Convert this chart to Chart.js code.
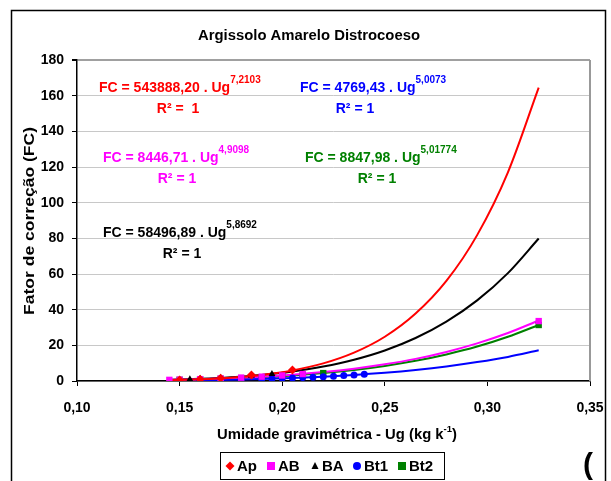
<!DOCTYPE html>
<html>
<head>
<meta charset="utf-8">
<script src="https://cdn.jsdelivr.net/npm/chart.js@4"></script>
<style>
  html, body { margin: 0; padding: 0; background: #fff; }
  #wrap { width: 611px; height: 481px; }
</style>
</head>
<body>
<div id="wrap"><canvas id="myChart" width="611" height="481"></canvas></div>
<script>
const apX = [0.150, 0.160, 0.170, 0.185, 0.205];
const apY = [0.6, 1.0, 1.6, 3.3, 6.2];
const abX = [0.145, 0.150, 0.160, 0.170, 0.180, 0.190, 0.200, 0.210, 0.325];
const abY = [0.64, 0.75, 1.04, 1.41, 1.9, 2.43, 3.1, 3.9, 33.6];
const baX = [0.155, 0.160, 0.170, 0.185, 0.195];
const baY = [0.95, 1.25, 1.8, 3.0, 3.9];
const bt1X = [0.160, 0.170, 0.180, 0.190, 0.195, 0.200, 0.205, 0.210, 0.215, 0.220, 0.225, 0.230, 0.235, 0.240];
const bt1Y = [0.49, 0.67, 0.89, 1.17, 1.33, 1.51, 1.71, 1.93, 2.17, 2.43, 2.72, 3.03, 3.38, 3.75];
const bt2X = [0.150, 0.160, 0.170, 0.180, 0.190, 0.200, 0.210, 0.220, 0.325];
const bt2Y = [0.65, 0.90, 1.22, 1.62, 2.13, 2.75, 3.5, 4.44, 31.4];

// trend curves, values
const trendX = [0.145, 0.160, 0.175, 0.190, 0.205, 0.220, 0.235, 0.250, 0.265, 0.280, 0.295, 0.310, 0.325];
const apTrend = [0.49, 0.99, 1.89, 3.43, 5.93, 9.87, 15.9, 24.8, 37.8, 56.1, 81.8, 117, 164.5];
const baTrend = [0.70, 1.25, 2.11, 3.42, 5.34, 8.08, 11.9, 17.1, 24.1, 33.3, 45.2, 60.5, 79.9];
const abTrend = [0.64, 1.04, 1.62, 2.43, 3.53, 4.99, 6.90, 9.34, 12.4, 16.3, 21.1, 26.9, 33.9];
const bt2Trend = [0.55, 0.90, 1.41, 2.13, 3.11, 4.44, 6.18, 8.43, 11.3, 14.9, 19.3, 24.8, 31.4];
const bt1Trend = [0.30, 0.49, 0.77, 1.17, 1.71, 2.43, 3.38, 4.61, 6.17, 8.13, 10.6, 13.5, 17.2];

const xTicks = [0.10, 0.15, 0.20, 0.25, 0.30, 0.35];
const xTickLabels = ["0,10", "0,15", "0,20", "0,25", "0,30", "0,35"];
const yTicks = [0, 20, 40, 60, 80, 100, 120, 140, 160, 180];

const seriesNames = ["Ap", "AB", "BA", "Bt1", "Bt2"];
const equations = [
  { fc: "FC = 543888,20 . Ug", exp: "7,2103", r2: "R² =  1", color: "#ff0000", x: 99, y: 92, rx: 178 },
  { fc: "FC = 4769,43 . Ug", exp: "5,0073", r2: "R² = 1", color: "#0000ff", x: 300, y: 92, rx: 355 },
  { fc: "FC = 8446,71 . Ug", exp: "4,9098", r2: "R² = 1", color: "#ff00ff", x: 103, y: 162, rx: 177 },
  { fc: "FC = 8847,98 . Ug", exp: "5,01774", r2: "R² = 1", color: "#008000", x: 305, y: 162, rx: 377 },
  { fc: "FC = 58496,89 . Ug", exp: "5,8692", r2: "R² = 1", color: "#000000", x: 103, y: 237, rx: 182 },
];

const FONT = "'Liberation Sans', Arial, sans-serif";

function pts(xs, ys) {
  return xs.map((x, i) => ({ x: x, y: ys[i] }));
}

function points(label, xs, ys, color, style, r) {
  return {
    type: "scatter",
    label: label,
    data: pts(xs, ys),
    backgroundColor: color,
    borderColor: color,
    borderWidth: 0,
    pointStyle: style,
    pointRadius: r,
    order: 0,
  };
}

function trend(ys, color) {
  return {
    type: "line",
    label: "trend",
    data: pts(trendX, ys),
    borderColor: color,
    borderWidth: 2,
    pointRadius: 0,
    cubicInterpolationMode: "monotone",
    fill: false,
    order: 1,
  };
}

// centered text squeezed/stretched to a width seen in the picture
function fitText(ctx, text, cx, cy, width) {
  const w = ctx.measureText(text).width;
  ctx.save();
  ctx.translate(cx, cy);
  ctx.scale(width / w, 1);
  ctx.textAlign = "center";
  ctx.fillText(text, 0, 0);
  ctx.restore();
}

const decor = {
  id: "decor",
  afterDraw(chart) {
    const ctx = chart.ctx;
    const a = chart.chartArea;
    ctx.save();

    // plot area right border
    ctx.strokeStyle = "#999";
    ctx.lineWidth = 2;
    ctx.beginPath();
    ctx.moveTo(a.right, a.top);
    ctx.lineTo(a.right, a.bottom);
    ctx.stroke();

    // outer frame
    ctx.strokeStyle = "#000";
    ctx.lineWidth = 1.5;
    ctx.strokeRect(11.5, 10.5, 594, 490);

    // title
    ctx.fillStyle = "#000";
    ctx.textBaseline = "middle";
    ctx.font = "bold 14px " + FONT;
    fitText(ctx, "Argissolo Amarelo Distrocoeso", 309, 36, 222);

    // y title
    ctx.save();
    ctx.translate(30, 221);
    ctx.rotate(-Math.PI / 2);
    ctx.font = "bold 15px " + FONT;
    fitText(ctx, "Fator de correção (FC)", 0, 0, 188);
    ctx.restore();

    // x title with superscript
    ctx.textBaseline = "alphabetic";
    ctx.textAlign = "left";
    ctx.save();
    ctx.font = "bold 14px " + FONT;
    const p1 = "Umidade gravimétrica - Ug (kg k";
    const w1 = ctx.measureText(p1).width;
    ctx.font = "bold 9px " + FONT;
    const ws = ctx.measureText("-1").width;
    ctx.font = "bold 14px " + FONT;
    const w2 = ctx.measureText(")").width;
    const tw = w1 + ws + w2;
    const k = 240 / tw;
    ctx.translate(217, 0);
    ctx.scale(k, 1);
    ctx.fillText(p1, 0, 439);
    ctx.font = "bold 9px " + FONT;
    ctx.fillText("-1", w1, 432);
    ctx.font = "bold 14px " + FONT;
    ctx.fillText(")", w1 + ws, 439);
    ctx.restore();

    // equations
    equations.forEach((e) => {
      ctx.fillStyle = e.color;
      ctx.textAlign = "left";
      ctx.font = "bold 14px " + FONT;
      ctx.fillText(e.fc, e.x, e.y);
      const w = ctx.measureText(e.fc).width;
      ctx.font = "bold 10px " + FONT;
      ctx.fillText(e.exp, e.x + w, e.y - 9);
      ctx.font = "bold 14px " + FONT;
      ctx.textAlign = "center";
      ctx.fillText(e.r2, e.rx, e.y + 21);
    });

    // legend box
    ctx.strokeStyle = "#000";
    ctx.lineWidth = 1;
    ctx.strokeRect(220.5, 452.5, 224, 27);
    const lx = [230, 271, 315, 357, 402];
    const ly = 466;
    const sets = chart.data.datasets.filter((d) => d.type === "scatter");
    ctx.font = "bold 15px " + FONT;
    ctx.textAlign = "left";
    ctx.textBaseline = "middle";
    sets.forEach((d, i) => {
      ctx.fillStyle = d.backgroundColor;
      ctx.beginPath();
      if (d.pointStyle === "rectRot") {
        ctx.moveTo(lx[i], ly - 4.5); ctx.lineTo(lx[i] + 4.5, ly); ctx.lineTo(lx[i], ly + 4.5); ctx.lineTo(lx[i] - 4.5, ly);
      } else if (d.pointStyle === "rect") {
        ctx.rect(lx[i] - 4, ly - 4, 8, 8);
      } else if (d.pointStyle === "triangle") {
        ctx.moveTo(lx[i], ly - 4); ctx.lineTo(lx[i] + 3.5, ly + 3); ctx.lineTo(lx[i] - 3.5, ly + 3);
      } else {
        ctx.arc(lx[i], ly, 4, 0, Math.PI * 2);
      }
      ctx.fill();
      ctx.fillStyle = "#000";
      ctx.fillText(d.label, lx[i] + 7, ly + 1);
    });

    // stray parenthesis at the right
    ctx.font = "bold 30px " + FONT;
    ctx.textAlign = "center";
    ctx.fillText("(", 588, 466);

    ctx.restore();
  },
};

const ctx = document.getElementById("myChart");
const myChart = new Chart(ctx, {
  data: {
    datasets: [
      points(seriesNames[0], apX, apY, "#ff0000", "rectRot", 4.5),
      points(seriesNames[1], abX, abY, "#ff00ff", "rect", 4.5),
      points(seriesNames[2], baX, baY, "#000000", "triangle", 4),
      points(seriesNames[3], bt1X, bt1Y, "#0000ff", "circle", 3.5),
      points(seriesNames[4], bt2X, bt2Y, "#008000", "rect", 4.5),
      trend(apTrend, "#ff0000"),
      trend(abTrend, "#ff00ff"),
      trend(baTrend, "#000000"),
      trend(bt1Trend, "#0000ff"),
      trend(bt2Trend, "#008000"),
    ],
  },
  options: {
    responsive: false,
    animation: false,
    events: [],
    layout: { padding: { left: 11, top: 60, right: 21, bottom: 0 } },
    plugins: {
      legend: { display: false },
      tooltip: { enabled: false },
    },
    scales: {
      x: {
        type: "linear",
        min: 0.1,
        max: 0.35,
        afterFit: (s) => { s.height = 100; s.paddingLeft = 0; s.paddingRight = 0; },
        afterBuildTicks: (s) => { s.ticks = xTicks.map((v) => ({ value: v })); },
        ticks: {
          callback: (v, i) => xTickLabels[i],
          color: "#000",
          font: { family: FONT, size: 14, weight: "bold" },
          padding: 14,
          maxRotation: 0,
        },
        grid: { drawOnChartArea: false, tickColor: "#000", tickLength: 5 },
        border: { color: "#000", width: 1.5 },
      },
      y: {
        type: "linear",
        min: 0,
        max: 180,
        afterFit: (s) => { s.width = 66; s.paddingTop = 0; s.paddingBottom = 0; },
        afterBuildTicks: (s) => { s.ticks = yTicks.map((v) => ({ value: v })); },
        ticks: {
          color: "#000",
          font: { family: FONT, size: 14, weight: "bold" },
          padding: 8,
        },
        grid: {
          color: (c) => (c.tick && c.tick.value === 180 ? "#a0a0a0" : "#c8c8c8"),
          lineWidth: (c) => (c.tick && c.tick.value === 180 ? 2 : 1),
          tickColor: "#000",
          tickLength: 5,
        },
        border: { color: "#000", width: 1.5 },
      },
    },
  },
  plugins: [decor],
});
</script>
</body>
</html>
